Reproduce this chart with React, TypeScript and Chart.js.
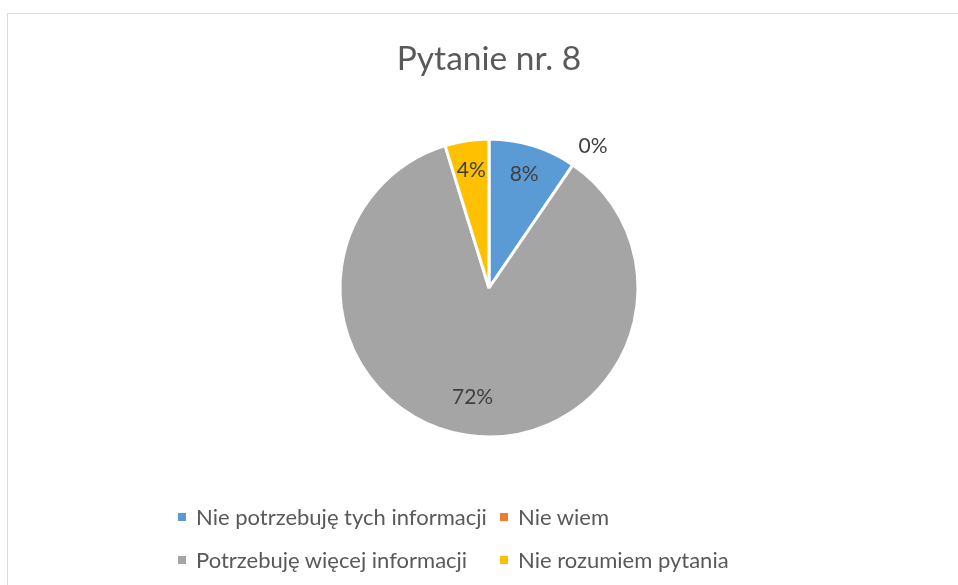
import React, { useEffect, useRef } from "react";
import { Chart, registerables } from "chart.js";

Chart.register(...registerables);

const TITLE = "Pytanie nr. 8";
const CATEGORIES = [
  "Nie potrzebuję tych informacji",
  "Nie wiem",
  "Potrzebuję więcej informacji",
  "Nie rozumiem pytania",
];
const VALUES = [0.08, 0, 0.72, 0.04];
const COLORS = ["#5B9BD5", "#ED7D31", "#A5A5A5", "#FFC000"];

const FONT = "Lato, 'Open Sans', sans-serif";
const TEXT_COLOR = "#595959";

const labelPlugin = {
  id: "sliceLabels",
  afterDatasetsDraw(chart: any) {
    const ctx = chart.ctx;
    const meta = chart.getDatasetMeta(0);
    const data = chart.data.datasets[0].data as number[];
    ctx.save();
    ctx.font = `21px ${FONT}`;
    ctx.fillStyle = "#404040";
    meta.data.forEach((arc: any, i: number) => {
      const { x, y, startAngle, endAngle, outerRadius } = arc.getProps(
        ["x", "y", "startAngle", "endAngle", "outerRadius"],
        true
      );
      const v = data[i];
      const mid = (startAngle + endAngle) / 2;
      const text = Math.round(v * 100) + "%";
      if (v === 0) {
        // outside label, anchored at the slice edge
        const r = outerRadius + 10;
        const px = x + Math.cos(mid) * r;
        const py = y + Math.sin(mid) * r;
        ctx.textAlign = Math.cos(mid) >= 0 ? "left" : "right";
        ctx.textBaseline = Math.sin(mid) < 0 ? "bottom" : "top";
        ctx.fillText(text, px, py);
      } else {
        const r = outerRadius * (v > 0.5 ? 0.74 : 0.8);
        const px = x + Math.cos(mid) * r;
        const py = y + Math.sin(mid) * r;
        ctx.textAlign = "center";
        ctx.textBaseline = "middle";
        ctx.fillText(text, px, py);
      }
    });
    ctx.restore();
  },
};

export default function App() {
  const canvasRef = useRef<HTMLCanvasElement | null>(null);

  useEffect(() => {
    const canvas = canvasRef.current;
    if (!canvas) return;
    const chart = new Chart(canvas, {
      type: "pie",
      data: {
        labels: CATEGORIES,
        datasets: [
          {
            data: VALUES,
            backgroundColor: COLORS,
            borderColor: "#ffffff",
            borderWidth: 3,
            hoverOffset: 0,
          },
        ],
      },
      options: {
        responsive: false,
        animation: false,
        layout: {
          padding: { top: 137.5, bottom: 146.5, left: 338.5, right: 318.5 },
        },
        plugins: {
          legend: { display: false },
          title: { display: false },
          tooltip: { enabled: false },
        },
      },
      plugins: [labelPlugin],
    });
    return () => chart.destroy();
  }, []);

  const legendItem = (i: number, left: number, centerY: number) => (
    <div
      key={i}
      style={{
        position: "absolute",
        left,
        top: centerY - 15,
        height: 30,
        display: "flex",
        alignItems: "center",
        whiteSpace: "nowrap",
      }}
    >
      <span
        style={{
          display: "inline-block",
          width: 8,
          height: 8,
          background: COLORS[i],
          marginRight: 10,
        }}
      />
      <span style={{ font: `22px ${FONT}`, color: TEXT_COLOR, lineHeight: "30px" }}>
        {CATEGORIES[i]}
      </span>
    </div>
  );

  return (
    <div
      style={{
        position: "fixed",
        left: 0,
        top: 0,
        width: 958,
        height: 585,
        overflow: "hidden",
        background: "#ffffff",
      }}
    >
      <div
        style={{
          position: "absolute",
          left: 7,
          top: 13,
          width: 1000,
          height: 700,
          border: "1px solid #d9d9d9",
        }}
      />
      <canvas
        ref={canvasRef}
        width={958}
        height={585}
        style={{ position: "absolute", left: 0, top: 0 }}
      />
      <div
        style={{
          position: "absolute",
          left: 0,
          top: 37,
          width: 978,
          textAlign: "center",
          font: `33.5px ${FONT}`,
          color: TEXT_COLOR,
          lineHeight: "40px",
        }}
      >
        {TITLE}
      </div>
      {legendItem(0, 178, 517)}
      {legendItem(1, 500, 517)}
      {legendItem(2, 178, 560)}
      {legendItem(3, 500, 560)}
    </div>
  );
}
